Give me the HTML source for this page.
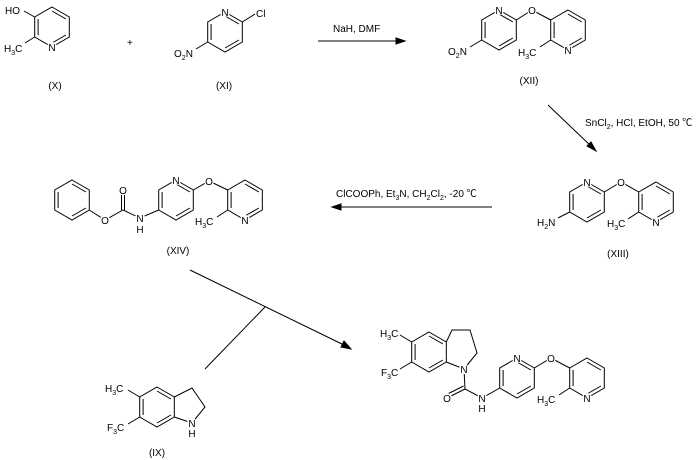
<!DOCTYPE html>
<html><head><meta charset="utf-8"><style>
html,body{margin:0;padding:0;background:#fff}
svg{display:block}
text{font-family:"Liberation Sans","Noto Sans CJK SC",sans-serif;font-size:10px;fill:#000}
.a{stroke:#fff;stroke-width:3px;paint-order:stroke}
line,polyline,polygon{stroke:#000;stroke-width:1;fill:none}
circle{fill:#fff;stroke:none}
</style></head><body>
<svg width="697" height="460" viewBox="0 0 697 460" xmlns="http://www.w3.org/2000/svg">
<defs>
<g id="ring">
<polygon points="0,-20 17.3,-10 17.3,10 0,20 -17.3,10 -17.3,-10"/>
<line x1="-13.9" y1="-8" x2="-13.9" y2="8"/>
<line x1="0" y1="-16" x2="13.9" y2="-8"/>
<line x1="13.9" y1="8" x2="0" y2="16"/>
</g>
</defs>

<!-- X -->
<use href="#ring" x="52" y="27"/>
<line x1="34.7" y1="17" x2="24" y2="11"/>
<line x1="34.7" y1="37" x2="25" y2="43"/>
<text x="5" y="14">HO</text>
<text x="4" y="52">H<tspan font-size="7" dy="3">3</tspan><tspan dy="-3">C</tspan></text>
<circle cx="52" cy="47" r="5"/>
<text x="52" y="51" text-anchor="middle">N</text>
<text x="127" y="46">+</text>
<text x="55" y="89" text-anchor="middle">(X)</text>

<!-- XI -->
<use href="#ring" x="225" y="32"/>
<line x1="242.3" y1="22" x2="255" y2="14"/>
<line x1="207.7" y1="42" x2="196" y2="49"/>
<text x="256" y="17">Cl</text>
<text x="174" y="57">O<tspan font-size="7" dy="3">2</tspan><tspan dy="-3">N</tspan></text>
<circle cx="225" cy="12" r="5"/>
<text x="225" y="16" text-anchor="middle">N</text>
<text x="224" y="89" text-anchor="middle">(XI)</text>

<!-- arrow 1 -->
<line x1="318" y1="41" x2="400" y2="41"/>
<polygon points="405,41 396,38 396,44" style="fill:#000"/>
<text x="333" y="32">NaH, DMF</text>

<!-- XII -->
<use href="#ring" x="499" y="30"/>
<use href="#ring" x="568" y="30"/>
<polyline points="516.3,20 532,10 550.7,20"/>
<line x1="481.7" y1="40" x2="470" y2="47"/>
<line x1="550.7" y1="40" x2="540" y2="47"/>
<circle cx="532" cy="10" r="5"/><circle cx="499" cy="10" r="5"/><circle cx="568" cy="50" r="5"/>
<text x="532" y="14" text-anchor="middle">O</text>
<text x="499" y="14" text-anchor="middle">N</text>
<text x="568" y="54" text-anchor="middle">N</text>
<text x="448" y="55">O<tspan font-size="7" dy="3">2</tspan><tspan dy="-3">N</tspan></text>
<text x="518" y="56">H<tspan font-size="7" dy="3">3</tspan><tspan dy="-3">C</tspan></text>
<text x="529" y="84" text-anchor="middle">(XII)</text>

<!-- arrow 2 -->
<line x1="548" y1="105" x2="592" y2="147"/>
<polygon points="596,151 587,146 591,142" style="fill:#000"/>
<text x="585" y="126">SnCl<tspan font-size="7" dy="3">2</tspan><tspan dy="-3">, HCl, EtOH, 50 ℃</tspan></text>

<!-- XIII -->
<use href="#ring" x="587" y="202"/>
<use href="#ring" x="656" y="202"/>
<polyline points="604.3,192 621,182 638.7,192"/>
<line x1="569.7" y1="212" x2="558" y2="218"/>
<line x1="638.7" y1="212" x2="628" y2="219"/>
<circle cx="621" cy="182" r="5"/><circle cx="587" cy="182" r="5"/><circle cx="656" cy="222" r="5"/>
<text x="621" y="186" text-anchor="middle">O</text>
<text x="587" y="186" text-anchor="middle">N</text>
<text x="656" y="226" text-anchor="middle">N</text>
<text x="537" y="226">H<tspan font-size="7" dy="3">2</tspan><tspan dy="-3">N</tspan></text>
<text x="607" y="227">H<tspan font-size="7" dy="3">3</tspan><tspan dy="-3">C</tspan></text>
<text x="618" y="257" text-anchor="middle">(XIII)</text>

<!-- arrow 3 -->
<line x1="492" y1="207" x2="337" y2="207"/>
<polygon points="332,207 341,204 341,210" style="fill:#000"/>
<text x="336" y="197">ClCOOPh, Et<tspan font-size="7" dy="3">3</tspan><tspan dy="-3">N, CH</tspan><tspan font-size="7" dy="3">2</tspan><tspan dy="-3">Cl</tspan><tspan font-size="7" dy="3">2</tspan><tspan dy="-3">, -20 ℃</tspan></text>

<!-- XIV -->
<use href="#ring" x="72" y="200"/>
<use href="#ring" x="176" y="200"/>
<use href="#ring" x="245" y="200"/>
<polyline points="89.3,210 105,220 123,210 140,218 158.7,210"/>
<line x1="121.5" y1="210" x2="121.5" y2="195"/>
<line x1="124.5" y1="210" x2="124.5" y2="195"/>
<polyline points="193.3,190 209,181 227.7,190"/>
<line x1="227.7" y1="210" x2="217" y2="217"/>
<circle cx="105" cy="220" r="5"/><circle cx="123" cy="190" r="5"/><circle cx="140" cy="218" r="5"/>
<circle cx="176" cy="180" r="5"/><circle cx="209" cy="181" r="5"/><circle cx="245" cy="220" r="5"/>
<text x="105" y="224" text-anchor="middle">O</text>
<text x="123" y="194" text-anchor="middle">O</text>
<text x="140" y="222" text-anchor="middle">N</text>
<text x="140" y="233" text-anchor="middle">H</text>
<text x="176" y="184" text-anchor="middle">N</text>
<text x="209" y="185" text-anchor="middle">O</text>
<text x="245" y="224" text-anchor="middle">N</text>
<text x="195" y="225">H<tspan font-size="7" dy="3">3</tspan><tspan dy="-3">C</tspan></text>
<text x="178" y="254" text-anchor="middle">(XIV)</text>

<!-- reaction lines -->
<line x1="190" y1="270" x2="346" y2="346"/>
<polygon points="351,349 341,347 344,341" style="fill:#000"/>
<line x1="205" y1="369" x2="265" y2="307"/>

<!-- IX -->
<use href="#ring" x="157" y="407"/>
<line x1="139.7" y1="397" x2="128" y2="390"/>
<line x1="139.7" y1="417" x2="128" y2="424"/>
<polyline points="174.3,397 192,388 205,407 192,423 174.3,417"/>
<circle cx="192" cy="423" r="5"/>
<text x="192" y="427" text-anchor="middle">N</text>
<text x="192" y="437" text-anchor="middle">H</text>
<text x="105" y="392">H<tspan font-size="7" dy="3">3</tspan><tspan dy="-3">C</tspan></text>
<text x="107" y="431">F<tspan font-size="7" dy="3">3</tspan><tspan dy="-3">C</tspan></text>
<text x="157" y="456" text-anchor="middle">(IX)</text>

<!-- product -->
<use href="#ring" x="429" y="352"/>
<use href="#ring" x="517" y="378"/>
<use href="#ring" x="587" y="378"/>
<line x1="411.7" y1="342" x2="400" y2="335"/>
<line x1="411.7" y1="362" x2="400" y2="369"/>
<polyline points="446.3,342 452,330 470,330 477,353 464,369 446.3,362"/>
<polyline points="464,369 465,389 482,398 499.7,388"/>
<line x1="465" y1="389" x2="447" y2="398"/>
<line x1="463.5" y1="386" x2="445.5" y2="395"/>
<polyline points="534.3,368 551,358 569.7,368"/>
<line x1="569.7" y1="388" x2="559" y2="395"/>
<circle cx="464" cy="369" r="5"/><circle cx="447" cy="398" r="5"/><circle cx="482" cy="398" r="5"/>
<circle cx="517" cy="358" r="5"/><circle cx="551" cy="358" r="5"/><circle cx="587" cy="398" r="5"/>
<text x="464" y="373" text-anchor="middle">N</text>
<text x="447" y="402" text-anchor="middle">O</text>
<text x="482" y="402" text-anchor="middle">N</text>
<text x="482" y="412" text-anchor="middle">H</text>
<text x="517" y="362" text-anchor="middle">N</text>
<text x="551" y="362" text-anchor="middle">O</text>
<text x="587" y="402" text-anchor="middle">N</text>
<text x="380" y="337">H<tspan font-size="7" dy="3">3</tspan><tspan dy="-3">C</tspan></text>
<text x="381" y="376">F<tspan font-size="7" dy="3">3</tspan><tspan dy="-3">C</tspan></text>
<text x="537" y="403">H<tspan font-size="7" dy="3">3</tspan><tspan dy="-3">C</tspan></text>
</svg>
</body></html>
